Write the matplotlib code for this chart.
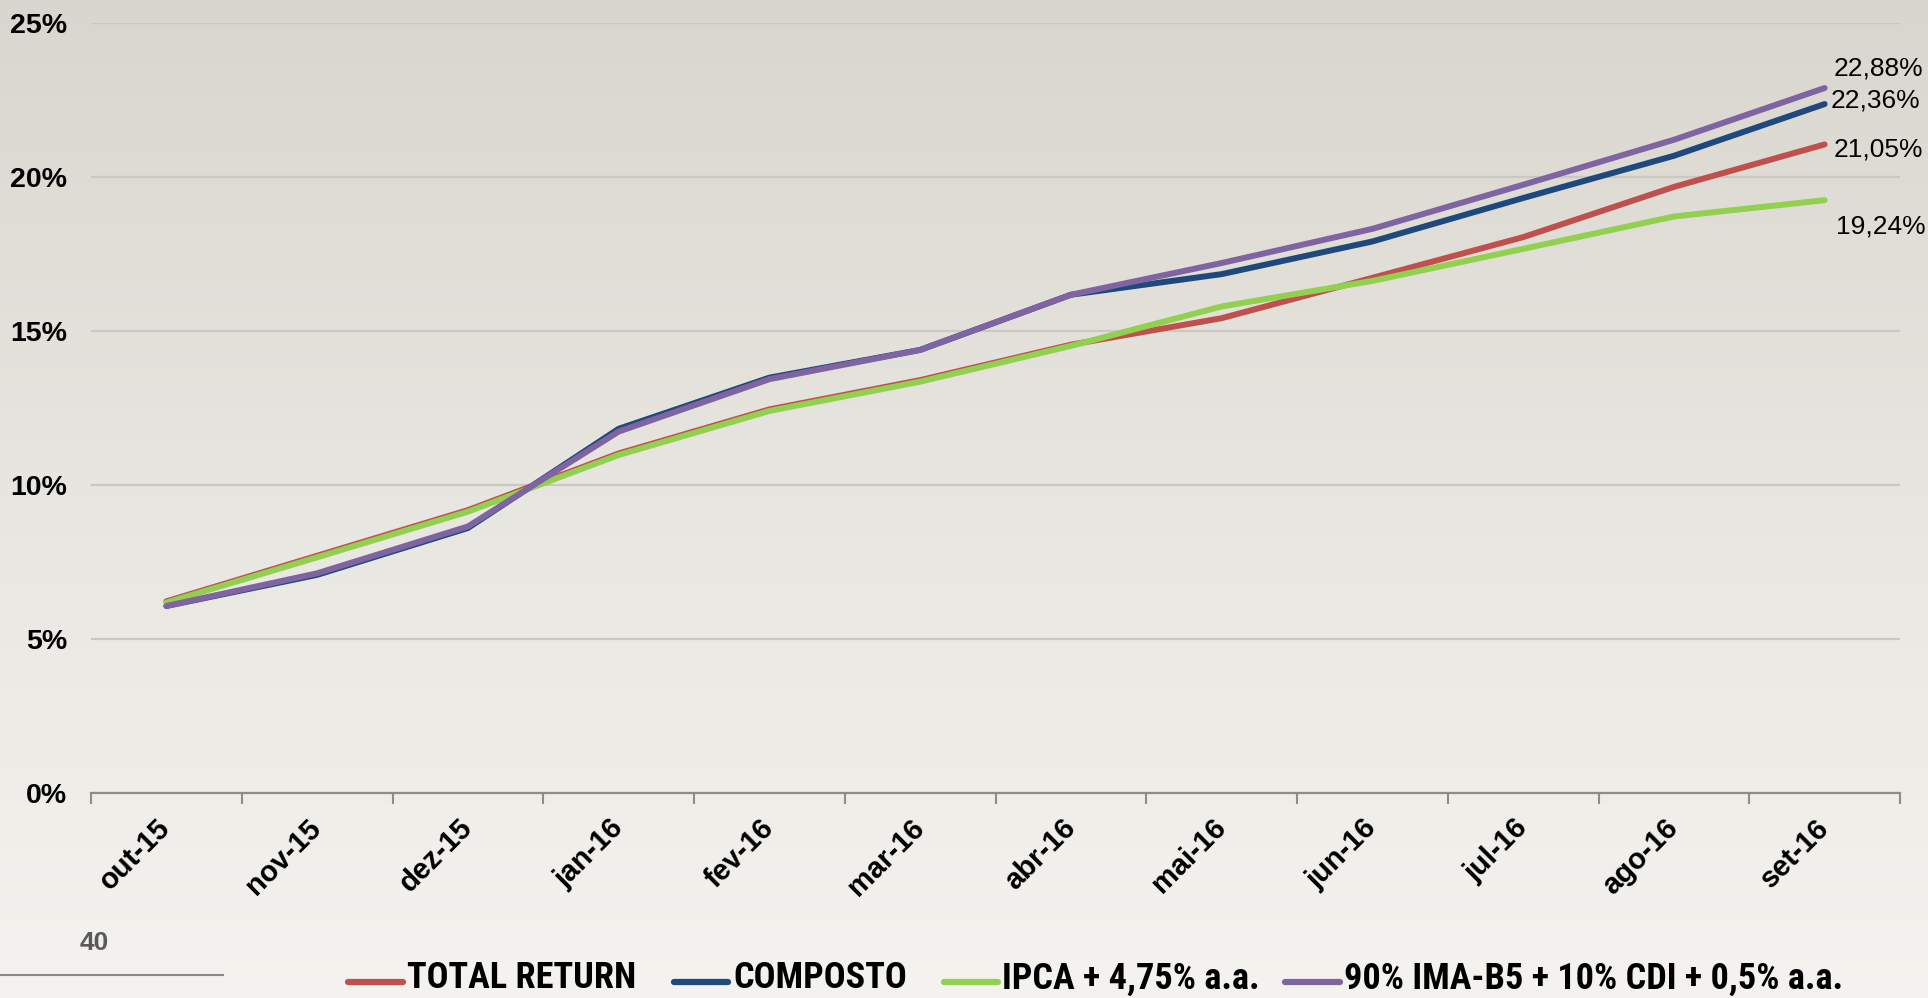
import os
import numpy as np
import matplotlib
matplotlib.use('Agg')
import matplotlib.pyplot as plt
from matplotlib.lines import Line2D
from matplotlib.colors import LinearSegmentedColormap
from matplotlib import font_manager as fm

# ---------------- data ----------------
categories = ['out-15', 'nov-15', 'dez-15', 'jan-16', 'fev-16', 'mar-16',
              'abr-16', 'mai-16', 'jun-16', 'jul-16', 'ago-16', 'set-16']
total_return = [6.22, 7.70, 9.18, 11.02, 12.45, 13.40, 14.55, 15.41, 16.72, 18.04, 19.67, 21.05]
composto     = [6.07, 7.08, 8.60, 11.82, 13.48, 14.38, 16.17, 16.84, 17.90, 19.31, 20.68, 22.36]
ipca         = [6.18, 7.65, 9.13, 10.97, 12.40, 13.35, 14.51, 15.79, 16.62, 17.66, 18.71, 19.24]
ima_b5       = [6.07, 7.13, 8.65, 11.73, 13.43, 14.38, 16.17, 17.20, 18.31, 19.74, 21.20, 22.88]
series_names = ['TOTAL RETURN', 'COMPOSTO', 'IPCA + 4,75% a.a.', '90% IMA-B5 + 10% CDI + 0,5% a.a.']
end_labels = ['21,05%', '22,36%', '19,24%', '22,88%']
yticks = [0, 5, 10, 15, 20, 25]
ytick_labels = ['0%', '5%', '10%', '15%', '20%', '25%']
page_number = '40'

# ---------------- style ----------------
colors = ['#C0504D', '#1F497D', '#92D050', '#8064A2']
label_offsets = [(9, -5), (6, 4), (11, -26), (9, 20)]  # pixels
W, H = 1928, 998

plt.rcParams['font.family'] = ['Liberation Sans', 'DejaVu Sans']


def find_condensed_bold():
    prio = ['liberation sans narrow', 'arial narrow', 'roboto condensed',
            'open sans condensed', 'noto sans', 'dejavu sans', 'open sans', 'roboto', 'lato', 'inter']
    found = []
    for f in fm.fontManager.ttflist:
        base = os.path.basename(f.fname).lower()
        low = (f.name + ' ' + base).lower()
        cond = ('narrow' in low or 'condensed' in low or 'cond' in base
                or str(f.stretch) in ('condensed', 'semi-condensed', 'extra-condensed'))
        w = f.weight
        bold = ('bold' in base) or (isinstance(w, int) and w >= 600) or (str(w) in ('bold', 'semibold', 'demibold'))
        if not cond or not bold:
            continue
        if 'italic' in base or 'oblique' in base or 'extrabold' in base or 'black' in base:
            continue
        rank = len(prio)
        for k, p in enumerate(prio):
            if p in low:
                rank = k
                break
        found.append((rank, f.fname))
    found.sort()
    return found[0][1] if found else None


cond_path = find_condensed_bold()
if cond_path:
    legend_fp = fm.FontProperties(fname=cond_path)
else:
    legend_fp = fm.FontProperties(family=['Liberation Sans', 'DejaVu Sans'], weight='bold')

fig = plt.figure(figsize=(W / 100, H / 100), dpi=100)

# background gradient
bg = fig.add_axes([0, 0, 1, 1], zorder=-10)
cmap = LinearSegmentedColormap.from_list('bg', ['#d9d6cf', '#e8e6e0', '#f4f3ef'])
grad = np.linspace(0, 1, 256).reshape(-1, 1)
bg.imshow(grad, aspect='auto', cmap=cmap, extent=[0, 1, 1, 0])
bg.set_axis_off()

ax = fig.add_axes([91 / W, 1 - 793 / H, (1900 - 91) / W, (793 - 22.7) / H])
ax.patch.set_alpha(0)

x = np.arange(len(categories))
all_series = [total_return, composto, ipca, ima_b5]
for i, (vals, col) in enumerate(zip(all_series, colors)):
    ax.plot(x, vals, color=col, lw=4.3, solid_capstyle='round',
            solid_joinstyle='round', zorder=3 + i)
    ax.annotate(end_labels[i], xy=(x[-1], vals[-1]), xytext=label_offsets[i],
                textcoords='offset pixels', ha='left', va='center',
                fontsize=19, color='black', zorder=10)

ax.set_xlim(-0.5, len(categories) - 0.5)
ax.set_ylim(0, 25)
ax.set_yticks(yticks)
ax.set_yticklabels(ytick_labels, fontsize=20.5, fontweight='bold')
ax.yaxis.grid(True, color='#cbc8c2', lw=1.6, zorder=0)
ax.set_axisbelow(True)
ax.tick_params(axis='y', length=0, pad=17)

ax.set_xticks(x)
ax.set_xticklabels(categories, rotation=45, ha='right', va='center',
                   rotation_mode='anchor', fontsize=21, fontweight='bold')
ax.tick_params(axis='x', which='major', length=0, pad=22)
ax.set_xticks(np.arange(-0.5, len(categories), 1), minor=True)
ax.tick_params(axis='x', which='minor', length=8, width=1.5, color='#8c8c8c', direction='out')

for s in ['left', 'right', 'top']:
    ax.spines[s].set_visible(False)
ax.spines['bottom'].set_color('#8c8c8c')
ax.spines['bottom'].set_linewidth(1.6)

# manual legend
leg_line = [(348, 403), (674, 728), (944, 998), (1285, 1340)]
leg_text_x = [407, 733, 1002, 1344]
leg_y = 982
target_width = 229.0  # px width of "TOTAL RETURN" in the reference
texts = []
for i in range(4):
    fig.add_artist(Line2D([leg_line[i][0] / W, leg_line[i][1] / W],
                          [1 - leg_y / H, 1 - leg_y / H], transform=fig.transFigure,
                          color=colors[i], lw=4.5, solid_capstyle='round'))
    t = fig.text(leg_text_x[i] / W, 1.5 / H, series_names[i], ha='left', va='bottom',
                 fontproperties=legend_fp, color='black')
    t.set_fontsize(26)
    texts.append(t)

fig.canvas.draw()
r = fig.canvas.get_renderer()
w0 = texts[0].get_window_extent(r).width
size = min(26 * target_width / w0, 27)
for t in texts:
    t.set_fontsize(size)

# page number and footer line
fig.text(94 / W, 1 - 943 / H, page_number, ha='center', va='center', fontsize=19,
         fontweight='bold', color='#5a5a5a')
fig.add_artist(Line2D([0, 223 / W], [1 - 975 / H, 1 - 975 / H], transform=fig.transFigure,
                      color='#8a8a8a', lw=1.5))

fig.savefig('out.png', dpi=100)
